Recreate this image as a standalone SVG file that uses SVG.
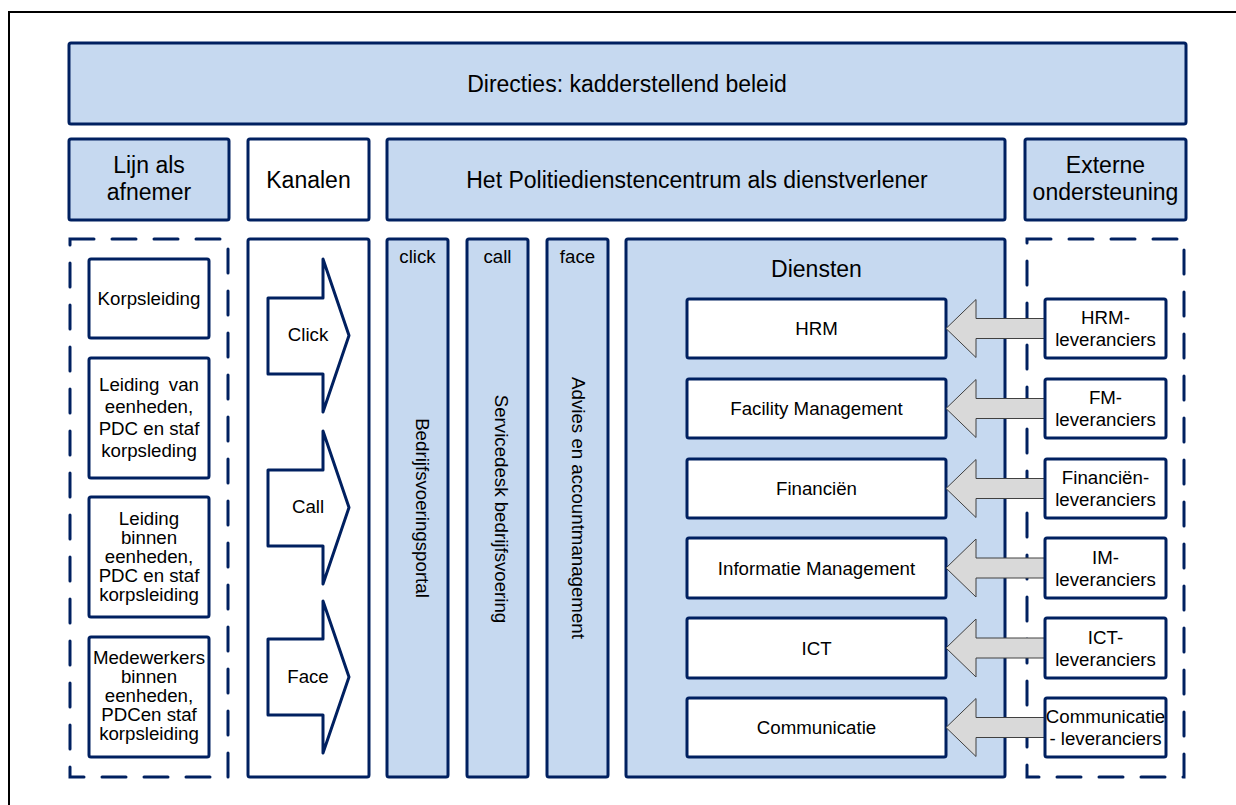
<svg xmlns="http://www.w3.org/2000/svg" width="1236" height="805" viewBox="0 0 1236 805">
<style>
  text { font-family: "Liberation Sans", Arial, sans-serif; fill: #000; }
  .big { font-size: 23px; text-anchor: middle; }
  .sm { font-size: 18.7px; text-anchor: middle; }
  .blue { fill: #C6D9F0; stroke: #002060; stroke-width: 3; stroke-linejoin: round; }
  .white { fill: #FFFFFF; stroke: #002060; stroke-width: 3; stroke-linejoin: round; }
  .dash { fill: none; stroke: #002060; stroke-width: 3; stroke-dasharray: 24 18; stroke-linecap: round; }
  .chan { fill: #FFFFFF; stroke: #002060; stroke-width: 3; stroke-linejoin: round; }
  .garrow { fill: #D9D9D9; stroke: #404040; stroke-width: 1; stroke-linejoin: miter; }
</style>
<rect x="0" y="0" width="1236" height="805" fill="#FFFFFF"/>
<rect id="frame" x="9" y="12" width="1260" height="830" fill="none" stroke="#000" stroke-width="2"/>

<g id="directies">
  <rect class="blue" x="69" y="43" width="1117" height="81" rx="2"/>
  <text class="big" x="627" y="91.5">Directies: kadderstellend beleid</text>
</g>

<g id="hdr-lijn">
  <rect class="blue" x="69" y="139" width="160" height="81" rx="2"/>
  <text class="big" x="149" y="173">Lijn als</text>
  <text class="big" x="149" y="200">afnemer</text>
</g>
<g id="hdr-kanalen">
  <rect class="white" x="248" y="139" width="121" height="81" rx="2"/>
  <text class="big" x="308.5" y="187.5">Kanalen</text>
</g>
<g id="hdr-pdc">
  <rect class="blue" x="387" y="139" width="618" height="81" rx="2"/>
  <text class="big" x="697" y="187.5">Het Politiedienstencentrum als dienstverlener</text>
</g>
<g id="hdr-extern">
  <rect class="blue" x="1025" y="139" width="161" height="81" rx="2"/>
  <text class="big" x="1105.5" y="173">Externe</text>
  <text class="big" x="1105.5" y="200">ondersteuning</text>
</g>

<g id="lijn-group">
  <rect class="dash" x="70" y="239" width="158" height="538"/>
</g>
<g id="korpsleiding">
  <rect class="white" x="89" y="259" width="120" height="79" rx="2"/>
  <text class="sm" x="149" y="305">Korpsleiding</text>
</g>
<g id="leiding-van">
  <rect class="white" x="89" y="358" width="120" height="120" rx="2"/>
  <text class="sm" x="149" y="391" word-spacing="4.4">Leiding van</text>
  <text class="sm" x="149" y="413">eenheden,</text>
  <text class="sm" x="149" y="435">PDC en staf</text>
  <text class="sm" x="149" y="456.5">korpsleding</text>
</g>
<g id="leiding-binnen">
  <rect class="white" x="89" y="497" width="120" height="120" rx="2"/>
  <text class="sm" x="149" y="525">Leiding</text>
  <text class="sm" x="149" y="544">binnen</text>
  <text class="sm" x="149" y="563">eenheden,</text>
  <text class="sm" x="149" y="582">PDC en staf</text>
  <text class="sm" x="149" y="600.5">korpsleiding</text>
</g>
<g id="medewerkers">
  <rect class="white" x="89" y="637" width="120" height="120" rx="2"/>
  <text class="sm" x="149" y="664">Medewerkers</text>
  <text class="sm" x="149" y="683">binnen</text>
  <text class="sm" x="149" y="702">eenheden,</text>
  <text class="sm" x="149" y="721">PDCen staf</text>
  <text class="sm" x="149" y="739.5">korpsleiding</text>
</g>

<g id="kanalen-col">
  <rect class="white" x="248" y="239" width="121" height="538" rx="2"/>
</g>
<g id="chan-click">
  <polygon class="chan" points="268,298 323,298 323,259 349,335.5 323,412 323,374 268,374"/>
  <text class="sm" x="308" y="341">Click</text>
</g>
<g id="chan-call">
  <polygon class="chan" points="268,470 323,470 323,431 349,507.5 323,584 323,546 268,546"/>
  <text class="sm" x="308" y="513">Call</text>
</g>
<g id="chan-face">
  <polygon class="chan" points="268,639 323,639 323,601 349,677 323,753 323,715 268,715"/>
  <text class="sm" x="308" y="683">Face</text>
</g>

<g id="col-click">
  <rect class="blue" x="387" y="239" width="61" height="538" rx="2"/>
  <text class="sm" x="417.5" y="263">click</text>
  <text class="sm" transform="translate(416,508) rotate(90)" x="0" y="0">Bedrijfsvoeringsportal</text>
</g>
<g id="col-call">
  <rect class="blue" x="467" y="239" width="61" height="538" rx="2"/>
  <text class="sm" x="497.5" y="263">call</text>
  <text class="sm" transform="translate(495,509) rotate(90)" x="0" y="0">Servicedesk bedrijfsvoering</text>
</g>
<g id="col-face">
  <rect class="blue" x="547" y="239" width="61" height="538" rx="2"/>
  <text class="sm" x="577.5" y="263">face</text>
  <text class="sm" transform="translate(572,508) rotate(90)" x="0" y="0">Advies en accountmanagement</text>
</g>

<g id="diensten">
  <rect class="blue" x="626" y="239" width="379" height="538" rx="2"/>
  <text class="big" x="816.5" y="277">Diensten</text>
</g>

<g id="extern-group">
  <rect class="dash" x="1027" y="239" width="157" height="538"/>
</g>

<g id="svc-hrm">
  <rect class="white" x="687" y="299" width="259" height="59" rx="2"/>
  <text class="sm" x="816.5" y="335">HRM</text>
</g>
<g id="svc-fm">
  <rect class="white" x="687" y="379" width="259" height="59" rx="2"/>
  <text class="sm" x="816.5" y="415">Facility Management</text>
</g>
<g id="svc-fin">
  <rect class="white" x="687" y="459" width="259" height="59" rx="2"/>
  <text class="sm" x="816.5" y="495">Financiën</text>
</g>
<g id="svc-im">
  <rect class="white" x="687" y="538" width="259" height="60" rx="2"/>
  <text class="sm" x="816.5" y="574.5">Informatie Management</text>
</g>
<g id="svc-ict">
  <rect class="white" x="687" y="618" width="259" height="60" rx="2"/>
  <text class="sm" x="816.5" y="654.5">ICT</text>
</g>
<g id="svc-com">
  <rect class="white" x="687" y="698" width="259" height="59" rx="2"/>
  <text class="sm" x="816.5" y="734">Communicatie</text>
</g>

<g id="connectors">
  <polygon class="garrow" points="946,328.5 976,299.5 976,318.5 1045,318.5 1045,338.5 976,338.5 976,357.5"/>
  <polygon class="garrow" points="946,408.5 976,379.5 976,398.5 1045,398.5 1045,418.5 976,418.5 976,437.5"/>
  <polygon class="garrow" points="946,488.5 976,459.5 976,478.5 1045,478.5 1045,498.5 976,498.5 976,517.5"/>
  <polygon class="garrow" points="946,568 976,539 976,558 1045,558 1045,578 976,578 976,597"/>
  <polygon class="garrow" points="946,648 976,619 976,638 1045,638 1045,658 976,658 976,677"/>
  <polygon class="garrow" points="946,727.5 976,698.5 976,717.5 1045,717.5 1045,737.5 976,737.5 976,756.5"/>
</g>

<g id="lev-hrm">
  <rect class="white" x="1045" y="299" width="121" height="59" rx="2"/>
  <text class="sm" x="1105.5" y="324">HRM-</text>
  <text class="sm" x="1105.5" y="346">leveranciers</text>
</g>
<g id="lev-fm">
  <rect class="white" x="1045" y="379" width="121" height="59" rx="2"/>
  <text class="sm" x="1105.5" y="404">FM-</text>
  <text class="sm" x="1105.5" y="426">leveranciers</text>
</g>
<g id="lev-fin">
  <rect class="white" x="1045" y="459" width="121" height="59" rx="2"/>
  <text class="sm" x="1105.5" y="484">Financiën-</text>
  <text class="sm" x="1105.5" y="506">leveranciers</text>
</g>
<g id="lev-im">
  <rect class="white" x="1045" y="538" width="121" height="60" rx="2"/>
  <text class="sm" x="1105.5" y="563.5">IM-</text>
  <text class="sm" x="1105.5" y="585.5">leveranciers</text>
</g>
<g id="lev-ict">
  <rect class="white" x="1045" y="618" width="121" height="60" rx="2"/>
  <text class="sm" x="1105.5" y="643.5">ICT-</text>
  <text class="sm" x="1105.5" y="665.5">leveranciers</text>
</g>
<g id="lev-com">
  <rect class="white" x="1045" y="698" width="121" height="59" rx="2"/>
  <text class="sm" x="1105.5" y="723">Communicatie</text>
  <text class="sm" x="1105.5" y="745">- leveranciers</text>
</g>
</svg>
